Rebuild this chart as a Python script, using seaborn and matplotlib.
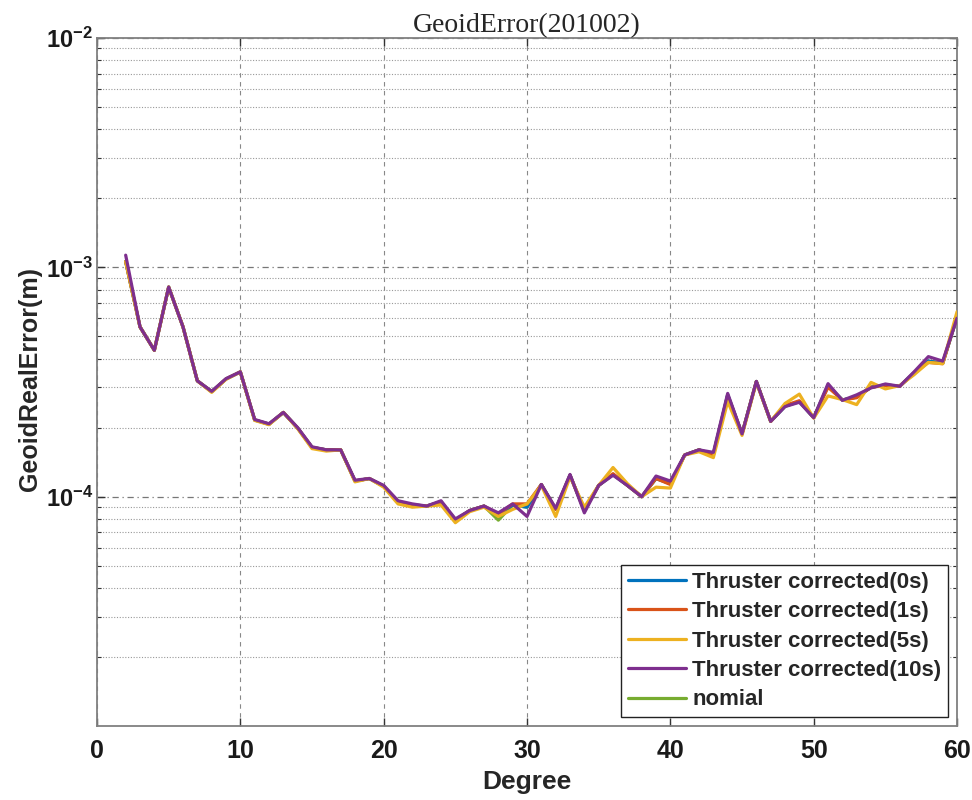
import numpy as np
import pandas as pd
import seaborn as sns
import matplotlib.pyplot as plt
from matplotlib.ticker import FixedLocator, LogLocator, NullFormatter

# spherical harmonic degree
degree = list(range(2, 61))

# geoid error per degree (m)
err_10s = [1.13e-3, 5.5e-4, 4.35e-4, 8.2e-4, 5.5e-4, 3.2e-4, 2.88e-4, 3.27e-4, 3.5e-4,
           2.17e-4, 2.08e-4, 2.33e-4, 2.0e-4, 1.65e-4, 1.6e-4, 1.6e-4, 1.18e-4, 1.2e-4, 1.12e-4,
           9.6e-5, 9.3e-5, 9.1e-5, 9.6e-5, 8.0e-5, 8.7e-5, 9.1e-5, 8.5e-5, 9.3e-5, 8.2e-5,
           1.13e-4, 8.9e-5, 1.25e-4, 8.5e-5, 1.12e-4, 1.24e-4, 1.12e-4, 1.0e-4, 1.23e-4, 1.17e-4,
           1.52e-4, 1.6e-4, 1.56e-4, 2.82e-4, 1.88e-4, 3.18e-4, 2.13e-4, 2.47e-4, 2.58e-4, 2.21e-4,
           3.11e-4, 2.63e-4, 2.78e-4, 2.98e-4, 3.1e-4, 3.03e-4, 3.5e-4, 4.08e-4, 3.9e-4, 6.0e-4]
err_5s = [1.06e-3, 5.5e-4, 4.35e-4, 8.2e-4, 5.5e-4, 3.2e-4, 2.85e-4, 3.25e-4, 3.5e-4,
          2.15e-4, 2.06e-4, 2.33e-4, 1.98e-4, 1.62e-4, 1.58e-4, 1.6e-4, 1.16e-4, 1.2e-4, 1.1e-4,
          9.3e-5, 9.0e-5, 9.1e-5, 9.2e-5, 7.7e-5, 8.6e-5, 9.0e-5, 8.2e-5, 8.8e-5, 9.3e-5,
          1.12e-4, 8.2e-5, 1.22e-4, 9.0e-5, 1.12e-4, 1.34e-4, 1.14e-4, 1.0e-4, 1.1e-4, 1.09e-4,
          1.52e-4, 1.57e-4, 1.48e-4, 2.6e-4, 1.85e-4, 3.15e-4, 2.13e-4, 2.55e-4, 2.8e-4, 2.2e-4,
          2.75e-4, 2.65e-4, 2.52e-4, 3.15e-4, 2.95e-4, 3.05e-4, 3.4e-4, 3.85e-4, 3.8e-4, 6.4e-4]
err_1s = [1.06e-3, 5.5e-4, 4.35e-4, 8.2e-4, 5.5e-4, 3.2e-4, 2.87e-4, 3.26e-4, 3.5e-4,
          2.16e-4, 2.07e-4, 2.33e-4, 1.99e-4, 1.64e-4, 1.6e-4, 1.6e-4, 1.17e-4, 1.2e-4, 1.11e-4,
          9.5e-5, 9.2e-5, 9.1e-5, 9.5e-5, 7.9e-5, 8.7e-5, 9.1e-5, 8.4e-5, 9.3e-5, 9.3e-5,
          1.13e-4, 8.8e-5, 1.24e-4, 8.7e-5, 1.12e-4, 1.26e-4, 1.12e-4, 1.0e-4, 1.2e-4, 1.13e-4,
          1.52e-4, 1.6e-4, 1.52e-4, 2.75e-4, 1.88e-4, 3.18e-4, 2.13e-4, 2.5e-4, 2.62e-4, 2.21e-4,
          3.0e-4, 2.64e-4, 2.7e-4, 3.0e-4, 3.05e-4, 3.03e-4, 3.45e-4, 3.85e-4, 3.8e-4, 6.1e-4]
err_0s = [1.06e-3, 5.5e-4, 4.35e-4, 8.2e-4, 5.5e-4, 3.2e-4, 2.87e-4, 3.26e-4, 3.5e-4,
          2.16e-4, 2.07e-4, 2.33e-4, 1.99e-4, 1.64e-4, 1.6e-4, 1.6e-4, 1.17e-4, 1.2e-4, 1.11e-4,
          9.5e-5, 9.2e-5, 9.1e-5, 9.5e-5, 7.9e-5, 8.7e-5, 9.1e-5, 8.3e-5, 9.2e-5, 9.0e-5,
          1.13e-4, 8.8e-5, 1.24e-4, 8.7e-5, 1.12e-4, 1.25e-4, 1.12e-4, 1.0e-4, 1.2e-4, 1.14e-4,
          1.52e-4, 1.6e-4, 1.53e-4, 2.78e-4, 1.88e-4, 3.18e-4, 2.13e-4, 2.48e-4, 2.6e-4, 2.21e-4,
          3.05e-4, 2.64e-4, 2.72e-4, 3.0e-4, 3.07e-4, 3.03e-4, 3.47e-4, 3.9e-4, 3.82e-4, 6.05e-4]
err_nom = [1.06e-3, 5.5e-4, 4.35e-4, 8.2e-4, 5.5e-4, 3.2e-4, 2.87e-4, 3.26e-4, 3.5e-4,
           2.16e-4, 2.07e-4, 2.33e-4, 1.99e-4, 1.64e-4, 1.6e-4, 1.6e-4, 1.17e-4, 1.2e-4, 1.11e-4,
           9.5e-5, 9.2e-5, 9.1e-5, 9.5e-5, 7.9e-5, 8.7e-5, 9.1e-5, 7.9e-5, 9.2e-5, 9.0e-5,
           1.13e-4, 8.8e-5, 1.24e-4, 8.7e-5, 1.12e-4, 1.25e-4, 1.12e-4, 1.0e-4, 1.2e-4, 1.14e-4,
           1.52e-4, 1.6e-4, 1.53e-4, 2.78e-4, 1.88e-4, 3.18e-4, 2.13e-4, 2.48e-4, 2.6e-4, 2.21e-4,
           3.05e-4, 2.64e-4, 2.72e-4, 3.0e-4, 3.07e-4, 3.03e-4, 3.47e-4, 3.9e-4, 3.82e-4, 6.05e-4]

y_ticks = [1e-4, 1e-3, 1e-2]
y_tick_labels = [r"$\mathbf{10^{-4}}$", r"$\mathbf{10^{-3}}$", r"$\mathbf{10^{-2}}$"]

series = [
    ("Thruster corrected(0s)", err_0s, "#0072BD", 2),
    ("Thruster corrected(1s)", err_1s, "#D95319", 3),
    ("Thruster corrected(5s)", err_5s, "#EDB120", 4),
    ("Thruster corrected(10s)", err_10s, "#7E2F8E", 5),
    ("nomial", err_nom, "#77AC30", 1),
]

sns.set_theme(style="ticks")
plt.rcParams["font.family"] = ["Liberation Sans", "DejaVu Sans"]
plt.rcParams["mathtext.fontset"] = "custom"
plt.rcParams["mathtext.bf"] = "Liberation Sans:bold"
plt.rcParams["mathtext.rm"] = "Liberation Sans:bold"
plt.rcParams["axes.unicode_minus"] = False

fig = plt.figure(figsize=(9.72, 8), dpi=100)
ax = fig.add_axes([0.0998, 0.0925, 0.8848, 0.86])

for label, vals, color, z in series:
    df = pd.DataFrame({"Degree": degree, "err": vals})
    sns.lineplot(data=df, x="Degree", y="err", color=color, linewidth=2.3,
                 label=label, ax=ax, zorder=z)

ax.set_yscale("log")
ax.set_xlim(0, 60)
ax.set_ylim(1e-5, 1e-2)

ax.set_xticks([0, 10, 20, 30, 40, 50, 60])
ax.set_xticklabels(["0", "10", "20", "30", "40", "50", "60"], fontweight="bold")
ax.yaxis.set_major_locator(FixedLocator(y_ticks))
ax.set_yticklabels(y_tick_labels)
ax.yaxis.set_minor_locator(LogLocator(base=10, subs=np.arange(2, 10), numticks=20))
ax.yaxis.set_minor_formatter(NullFormatter())

ax.tick_params(axis="both", which="both", direction="in", top=True, right=True,
               colors="#333333", labelcolor="#1a1a1a")
ax.tick_params(axis="x", which="major", labelsize=18, length=6, width=1, pad=9)
ax.tick_params(axis="y", which="major", labelsize=17, length=6, width=1, pad=3)
ax.tick_params(axis="y", which="minor", length=3, width=0.8)

ax.grid(True, which="major", axis="x", linestyle=(0, (4, 4)), color="#888888", linewidth=0.8)
ax.grid(True, which="major", axis="y", linestyle=(0, (5, 3, 1, 3)), color="#777777", linewidth=0.9)
ax.grid(True, which="minor", axis="y", linestyle=(0, (1, 1.5)), color="#999999", linewidth=0.8)

for sp in ax.spines.values():
    sp.set_color("#808080")
    sp.set_linewidth(1.3)

ax.set_title("GeoidError(201002)", fontfamily="Liberation Serif", fontsize=20, pad=3)
ax.set_xlabel("Degree", fontsize=19, fontweight="bold")
ax.xaxis.set_label_coords(0.5, -0.064)
ax.set_ylabel("GeoidRealError(m)", fontsize=18, fontweight="bold")
ax.yaxis.set_label_coords(-0.064, 0.505)

leg = ax.legend(loc="lower right", frameon=True, fancybox=False,
                handlelength=2.6, borderaxespad=0.4, labelspacing=0.38,
                handletextpad=0.3, borderpad=0.3, prop={"weight": "bold", "size": 16})
leg.get_frame().set_edgecolor("#222222")
leg.get_frame().set_linewidth(1.0)
leg.get_frame().set_alpha(1)

fig.savefig("out.png", dpi=100)
